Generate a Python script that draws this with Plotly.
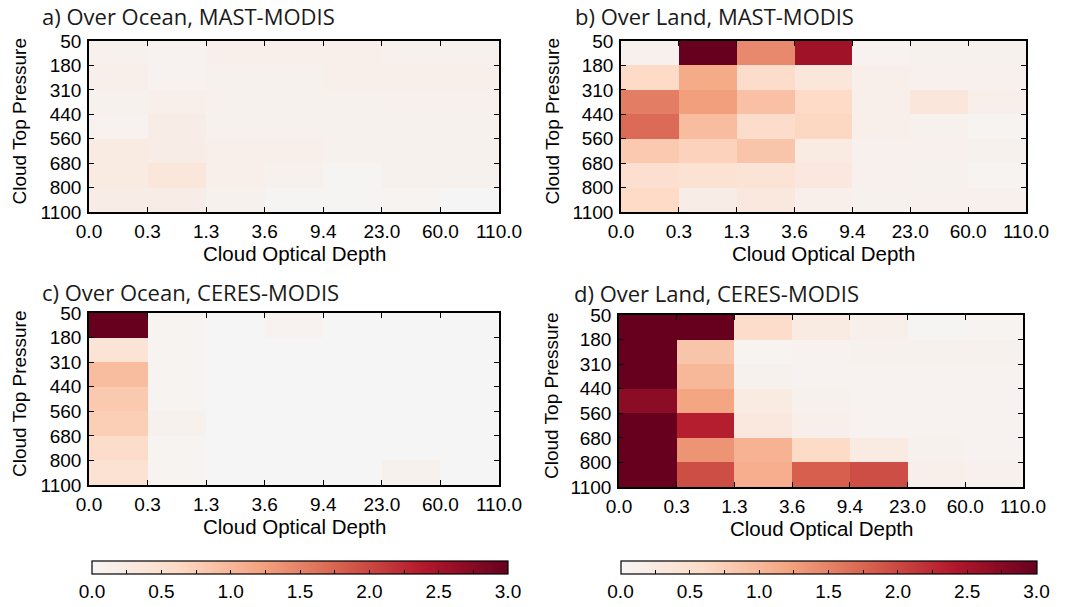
import plotly.graph_objects as go

tau_labels = ["0.0", "0.3", "1.3", "3.6", "9.4", "23.0", "60.0", "110.0"]
ctp_labels = ["50", "180", "310", "440", "560", "680", "800", "1100"]
cbar_ticks = ["0.0", "", "0.5", "", "1.0", "", "1.5", "", "2.0", "", "2.5", "", "3.0"]

# rows: top (50-180 hPa) to bottom (800-1100 hPa); columns: tau bins
ocean_mast = [
    [0.10, 0.08, 0.15, 0.15, 0.15, 0.10, 0.10],
    [0.15, 0.08, 0.10, 0.10, 0.15, 0.15, 0.15],
    [0.10, 0.15, 0.10, 0.10, 0.10, 0.12, 0.12],
    [0.08, 0.20, 0.10, 0.10, 0.10, 0.10, 0.10],
    [0.25, 0.20, 0.15, 0.15, 0.10, 0.10, 0.10],
    [0.25, 0.35, 0.15, 0.10, 0.03, 0.10, 0.10],
    [0.20, 0.20, 0.10, 0.03, 0.03, 0.05, 0.00],
]
land_mast = [
    [0.12, 3.00, 1.45, 2.55, 0.08, 0.10, 0.10],
    [0.60, 1.15, 0.55, 0.35, 0.15, 0.12, 0.12],
    [1.55, 1.25, 0.90, 0.60, 0.15, 0.35, 0.15],
    [1.70, 0.95, 0.55, 0.65, 0.15, 0.10, 0.05],
    [0.80, 0.70, 0.85, 0.25, 0.12, 0.12, 0.10],
    [0.50, 0.45, 0.40, 0.30, 0.12, 0.10, 0.05],
    [0.60, 0.20, 0.30, 0.15, 0.10, 0.12, 0.12],
]
ocean_ceres = [
    [3.00, 0.05, 0.00, 0.08, 0.00, 0.00, 0.00],
    [0.40, 0.05, 0.00, 0.00, 0.00, 0.00, 0.00],
    [0.95, 0.05, 0.00, 0.00, 0.00, 0.00, 0.00],
    [0.80, 0.05, 0.00, 0.00, 0.00, 0.00, 0.00],
    [0.75, 0.10, 0.00, 0.00, 0.00, 0.00, 0.00],
    [0.55, 0.05, 0.00, 0.00, 0.00, 0.00, 0.00],
    [0.45, 0.05, 0.00, 0.00, 0.00, 0.10, 0.00],
]
land_ceres = [
    [3.00, 3.00, 0.55, 0.25, 0.15, 0.03, 0.05],
    [3.00, 0.85, 0.05, 0.08, 0.10, 0.10, 0.10],
    [3.00, 1.00, 0.10, 0.08, 0.07, 0.07, 0.07],
    [2.70, 1.20, 0.25, 0.10, 0.07, 0.07, 0.07],
    [3.00, 2.35, 0.30, 0.15, 0.08, 0.07, 0.07],
    [3.00, 1.35, 1.05, 0.60, 0.25, 0.10, 0.07],
    [3.00, 1.95, 1.10, 1.80, 1.95, 0.15, 0.12],
]
titles = ["a) Over Ocean, MAST-MODIS", "b) Over Land, MAST-MODIS",
          "c) Over Ocean, CERES-MODIS", "d) Over Land, CERES-MODIS"]

W, H = 1067, 607
colorscale = [[0.0, "#f6f5f5"], [0.2, "#fddbc7"], [0.4, "#f4a582"],
              [0.6, "#d6604d"], [0.8, "#b2182b"], [1.0, "#67001f"]]

# panel boxes in pixels: left, right, top, bottom
boxes = [(89, 499, 41, 212), (621, 1026, 41, 212),
         (89, 499, 313, 485), (619, 1023, 315, 487)]
datas = [ocean_mast, land_mast, ocean_ceres, land_ceres]
title_pos = [(40, 16), (573, 16), (40, 292), (572, 293)]
ytitle_x = [19, 552, 19, 552]

fig = go.Figure()
xc = [i + 0.5 for i in range(7)]
yc = [i + 0.5 for i in range(7)]
FONT = "Liberation Sans, Arial, sans-serif"
tickfont = dict(family=FONT, size=19, color="black")

for k, (box, z) in enumerate(zip(boxes, datas)):
    n = "" if k == 0 else str(k + 1)
    ca = "coloraxis" if k % 2 == 0 else "coloraxis2"
    fig.add_trace(go.Heatmap(x=xc, y=yc, z=z, coloraxis=ca,
                             xaxis="x" + n, yaxis="y" + n, zsmooth=False))
    l, r, t, b = box
    common = dict(showline=True, linecolor="black", linewidth=1.5, mirror="ticks",
                  ticks="inside", ticklen=5, tickcolor="black", tickwidth=1.2,
                  showgrid=False, zeroline=False, tickfont=tickfont,
                  tickmode="array", tickvals=list(range(8)), automargin=False)
    fig.layout["xaxis" + n] = dict(
        common, domain=[l / W, r / W], anchor="y" + n, range=[0, 7],
        ticktext=tau_labels, ticklabelstandoff=1)
    fig.layout["yaxis" + n] = dict(
        common, domain=[1 - b / H, 1 - t / H], anchor="x" + n, range=[7, 0],
        ticktext=ctp_labels, ticklabelstandoff=2)
    tx, ty = title_pos[k]
    fig.add_annotation(text=titles[k], x=tx / W, y=1 - ty / H, xref="paper", yref="paper",
                       xanchor="left", yanchor="middle", showarrow=False,
                       font=dict(family="Open Sans", size=22, color="#1a1a1a"))
    # axis titles
    fig.add_annotation(text="Cloud Optical Depth", x=(l + r) / 2 / W, y=1 - (b + 41) / H,
                       xref="paper", yref="paper", xanchor="center", yanchor="middle",
                       showarrow=False, font=dict(family=FONT, size=20.5, color="black"))
    fig.add_annotation(text="Cloud Top Pressure", x=ytitle_x[k] / W, y=1 - ((t + b) / 2 - 5) / H,
                       xref="paper", yref="paper", xanchor="center", yanchor="middle",
                       textangle=-90, showarrow=False,
                       font=dict(family=FONT, size=19, color="black"))

cb_common = dict(orientation="h", thickness=13, lenmode="pixels", len=416,
                 y=1 - 561 / H, yanchor="top", xanchor="center", ypad=0, xpad=0,
                 outlinewidth=1.2, outlinecolor="black",
                 ticks="inside", ticklen=4, tickcolor="black",
                 tickmode="array", tickvals=[i * 0.25 for i in range(13)],
                 ticktext=cbar_ticks, tickfont=tickfont, ticklabelposition="outside bottom")
fig.update_layout(
    template="none",
    width=W, height=H, margin=dict(l=0, r=0, t=0, b=0),
    paper_bgcolor="white", plot_bgcolor="white", showlegend=False,
    coloraxis=dict(colorscale=colorscale, cmin=0, cmax=3,
                   colorbar=dict(cb_common, x=300 / W)),
    coloraxis2=dict(colorscale=colorscale, cmin=0, cmax=3,
                    colorbar=dict(cb_common, x=828.5 / W)),
)

fig.write_html("out.html")
